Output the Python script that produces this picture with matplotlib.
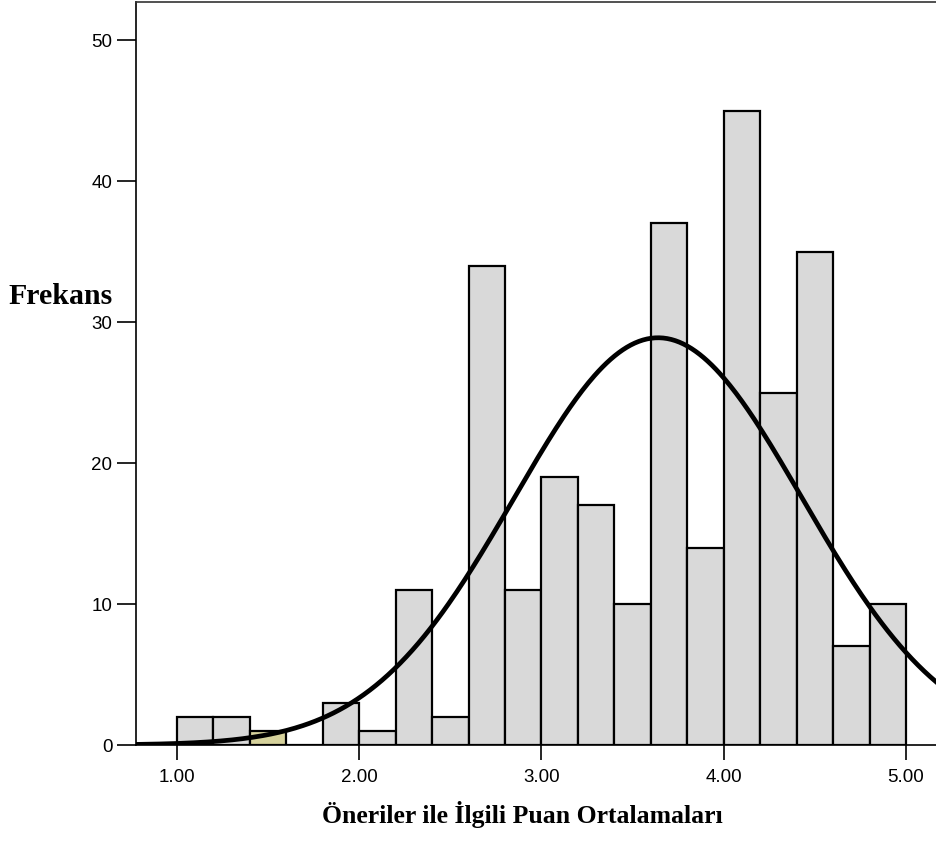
import numpy as np
import matplotlib.pyplot as plt

# histogram data (bins of 0.2 from 1.0 to 5.0)
bin_edges = np.arange(1.0, 5.0001, 0.2)
counts = [2, 2, 1, 0, 3, 1, 11, 2, 34, 11, 19, 17, 10, 37, 14, 45, 25, 35, 7, 10]
# one bar is highlighted in the original
bar_colors = ['#d9d9d9', '#d9d9d9', '#d6d29c'] + ['#d9d9d9'] * 17

# normal curve parameters
curve_mean = 3.64
curve_sd = 0.79
n_total = sum(counts)

xticks = [1.0, 2.0, 3.0, 4.0, 5.0]
yticks = [0, 10, 20, 30, 40, 50]

fig = plt.figure(figsize=(9.36, 8.42), dpi=100)
ax = fig.add_axes([136/936, 97/842, 1 - 136/936 + 0.001, 743/842])

widths = np.diff(bin_edges)
ax.bar(bin_edges[:-1], counts, width=widths, align='edge', color=bar_colors,
       edgecolor='black', linewidth=1.6, zorder=2)

xs = np.linspace(0.77, 5.2, 400)
ys = n_total * 0.2 / (curve_sd * np.sqrt(2 * np.pi)) * np.exp(-(xs - curve_mean)**2 / (2 * curve_sd**2))
ax.plot(xs, ys, color='black', linewidth=3.4, zorder=3)

ax.set_xlim(0.775, 5.17)
ax.set_ylim(0, 52.7)
ax.set_xticks(xticks)
ax.set_xticklabels(['%.2f' % v for v in xticks])
ax.set_yticks(yticks)
ax.set_yticklabels([str(v) for v in yticks])

for side in ['left', 'bottom', 'top']:
    ax.spines[side].set_linewidth(1.2)
    ax.spines[side].set_color('black')
ax.spines['top'].set_color('#333333')
ax.spines['right'].set_visible(False)

ax.tick_params(axis='y', length=13.5, width=1.2, pad=3.5, labelsize=13.5)
ax.tick_params(axis='x', length=11, width=1.2, pad=6, labelsize=13.5)
for lab in ax.get_xticklabels() + ax.get_yticklabels():
    lab.set_family('Liberation Sans')

ax.set_xlabel('Öneriler ile İlgili Puan Ortalamaları', family='Liberation Serif',
              fontweight='bold', fontsize=18.5)
ax.xaxis.set_label_coords(0.4825, -0.075)
fig.text(8/936, 1 - 297/842, 'Frekans', family='Liberation Serif',
         fontweight='bold', fontsize=21.5, ha='left', va='center')

fig.savefig('out.png', dpi=100)
